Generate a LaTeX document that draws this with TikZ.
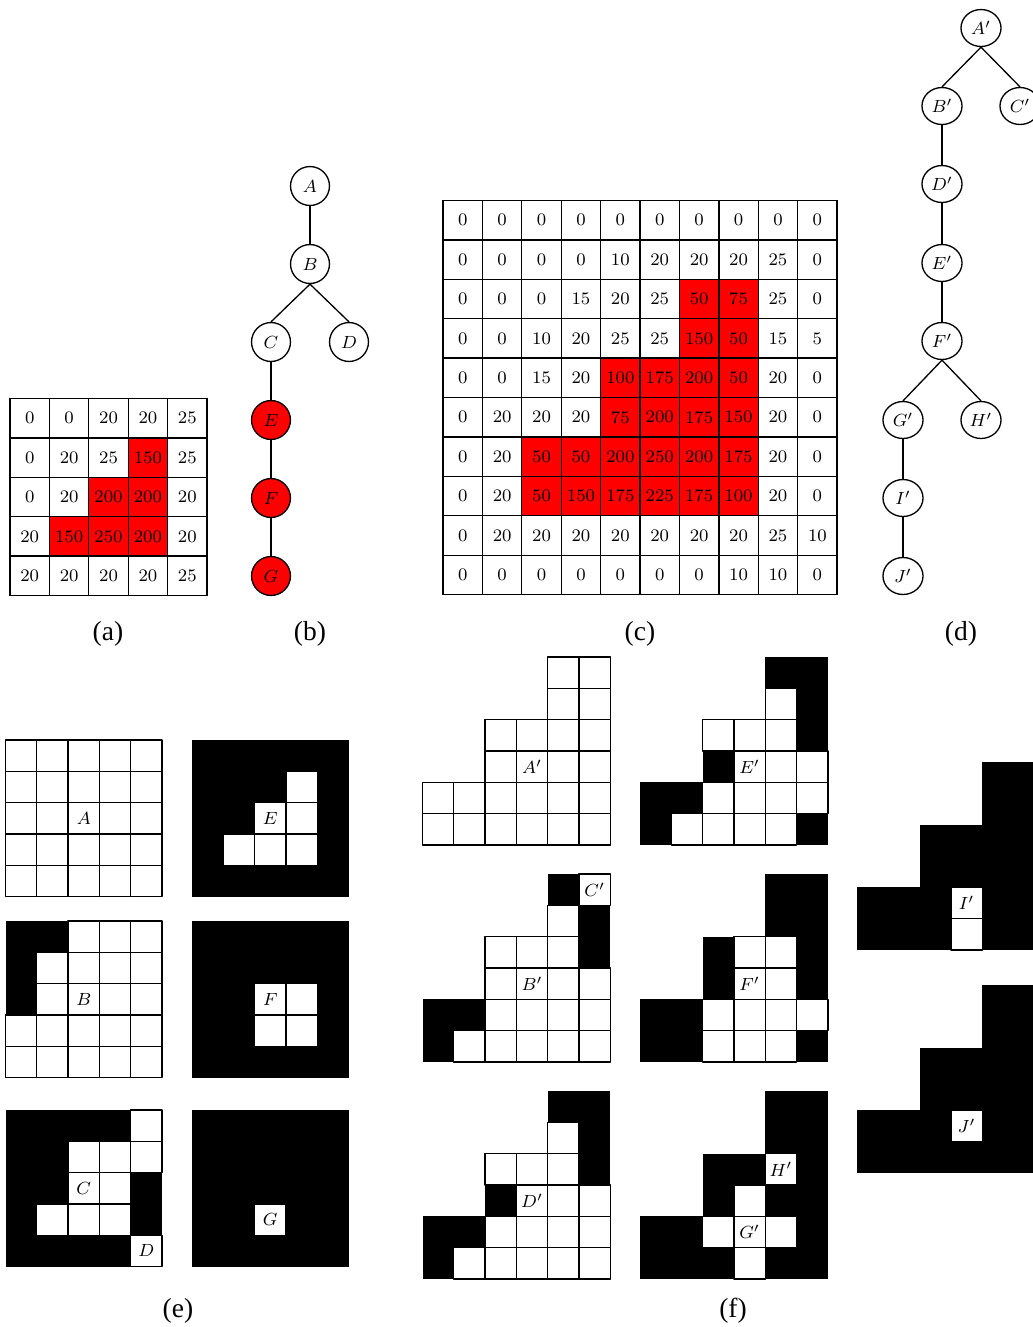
\documentclass[tikz,border=0pt]{standalone}
\usepackage{fontspec}
\newfontfamily\capfont{Liberation Serif}
\usetikzlibrary{shapes.geometric, positioning}
\definecolor{hot}{HTML}{FF0000}
\newcommand{\ncell}{17.91pt}
\newcommand{\bcell}{14.23pt}
\tikzset{el/.style={line width=0.6pt, line cap=round, line join=round},
  numcell/.style={draw, line width=0.6pt, minimum size=\ncell, inner sep=0pt, font=\fontsize{8}{9.5}\selectfont},
  glabel/.style={inner sep=0pt, font=\fontsize{8}{9.5}\selectfont},
  vert/.style={circle, draw, line width=0.6pt, minimum size=17.7pt, inner sep=0pt, font=\fontsize{8}{9.5}\selectfont},
  hotvert/.style={vert, fill=hot},
  vertp/.style={ellipse, draw, line width=0.6pt, minimum width=18.2pt, minimum height=16.8pt, inner sep=0pt, font=\fontsize{8}{9.5}\selectfont},
  captext/.style={font=\capfont\fontsize{12.5}{15}\selectfont}}

% grid of values, red from 50 up
\newcommand{\numgrid}[4]{%
  \begin{scope}[shift={(#1,#2)}, x=\ncell, y=-\ncell]
    \foreach \row [count=\ri from 0] in {#3}
      \foreach \val [count=\ci from 0] in \row {
        \ifnum\val<50 \def\tint{white}\else\def\tint{hot}\fi
        \node[numcell, fill=\tint] (#4-\ri-\ci) at (\ci+0.5,\ri+0.5) {\val};}
  \end{scope}}

% binary grid: 0 none, 1 white, 2 black
\newcommand{\bingrid}[4]{%
  \begin{scope}[shift={(#1,#2)}, x=\bcell, y=-\bcell]
    \foreach \row [count=\ri from 0] in {#3}
      \foreach \val [count=\ci from 0] in \row {
        \ifnum\val=1 \draw[el, fill=white] (\ci,\ri) rectangle ++(1,1);\fi
        \ifnum\val=2 \fill (\ci,\ri) rectangle ++(1,1);\fi}
    \foreach \lr/\lc/\lt/\ln in {#4}
      \node[glabel] (\ln) at (\lc+0.5,\lr+0.5) {$\lt$};
  \end{scope}}

\begin{document}
\begin{tikzpicture}[x=0.4545pt, y=-0.4545pt]
  \useasboundingbox (0,0) rectangle (1033,1327);

  % (a) and (c)
  \numgrid{10}{398.5}{{0,0,20,20,25},{0,20,25,150,25},{0,20,200,200,20},{20,150,250,200,20},{20,20,20,20,25}}{a}
  \numgrid{443}{200.5}{{0,0,0,0,0,0,0,0,0,0},{0,0,0,0,10,20,20,20,25,0},{0,0,0,15,20,25,50,75,25,0},
    {0,0,10,20,25,25,150,50,15,5},{0,0,15,20,100,175,200,50,20,0},{0,20,20,20,75,200,175,150,20,0},
    {0,20,50,50,200,250,200,175,20,0},{0,20,50,150,175,225,175,100,20,0},{0,20,20,20,20,20,20,20,25,10},
    {0,0,0,0,0,0,0,10,10,0}}{c}

  % (b)
  \node[vert] (A) at (310,186) {$A$};
  \node[vert] (B) at (310,264) {$B$};
  \node[vert] (C) at (271,342) {$C$};
  \node[vert] (D) at (349,342) {$D$};
  \node[hotvert] (E) at (271,420) {$E$};
  \node[hotvert] (F) at (271,498) {$F$};
  \node[hotvert] (G) at (271,576) {$G$};
  \foreach \pa/\ch in {A/B, B/C, B/D, C/E, E/F, F/G}
    \draw[el] (\pa.south) -- (\ch.north);

  % (d)
  \node[vertp] (Ap) at (981,28) {$A'$};
  \node[vertp] (Bp) at (942,106) {$B'$};
  \node[vertp] (Cp) at (1020,106) {$C'$};
  \node[vertp] (Dp) at (942,184) {$D'$};
  \node[vertp] (Ep) at (942,263) {$E'$};
  \node[vertp] (Fp) at (942,341) {$F'$};
  \node[vertp] (Gp) at (903,420) {$G'$};
  \node[vertp] (Hp) at (981,420) {$H'$};
  \node[vertp] (Ip) at (903,498) {$I'$};
  \node[vertp] (Jp) at (903,576) {$J'$};
  \foreach \pa/\ch in {Ap/Bp, Ap/Cp, Bp/Dp, Dp/Ep, Ep/Fp, Fp/Gp, Fp/Hp, Gp/Ip, Ip/Jp}
    \draw[el] (\pa.south) -- (\ch.north);

  % (e)
  \bingrid{5.5}{740}{{1,1,1,1,1},{1,1,1,1,1},{1,1,1,1,1},{1,1,1,1,1},{1,1,1,1,1}}{2/2/A/gA}
  \bingrid{192}{740}{{2,2,2,2,2},{2,2,2,1,2},{2,2,1,1,2},{2,1,1,1,2},{2,2,2,2,2}}{2/2/E/gE}
  \bingrid{5.5}{921}{{2,2,1,1,1},{2,1,1,1,1},{2,1,1,1,1},{1,1,1,1,1},{1,1,1,1,1}}{2/2/B/gB}
  \bingrid{192}{921}{{2,2,2,2,2},{2,2,2,2,2},{2,2,1,1,2},{2,2,1,1,2},{2,2,2,2,2}}{2/2/F/gF}
  \bingrid{5.5}{1110}{{2,2,2,2,1},{2,2,1,1,1},{2,2,1,1,2},{2,1,1,1,2},{2,2,2,2,1}}{2/2/C/gC, 4/4/D/gD}
  \bingrid{192}{1110}{{2,2,2,2,2},{2,2,2,2,2},{2,2,2,2,2},{2,2,1,2,2},{2,2,2,2,2}}{3/2/G/gG}

  % (f)
  \bingrid{422.5}{657}{{0,0,0,0,1,1},{0,0,0,0,1,1},{0,0,1,1,1,1},{0,0,1,1,1,1},{1,1,1,1,1,1},{1,1,1,1,1,1}}{3/3/A'/gAp}
  \bingrid{640}{657}{{0,0,0,0,2,2},{0,0,0,0,1,2},{0,0,1,1,1,2},{0,0,2,1,1,1},{2,2,1,1,1,1},{2,1,1,1,1,2}}{3/3/E'/gEp}
  \bingrid{422.5}{874}{{0,0,0,0,2,1},{0,0,0,0,1,2},{0,0,1,1,1,2},{0,0,1,1,1,1},{2,2,1,1,1,1},{2,1,1,1,1,1}}{0/5/C'/gCp, 3/3/B'/gBp}
  \bingrid{640}{874}{{0,0,0,0,2,2},{0,0,0,0,2,2},{0,0,2,1,1,2},{0,0,2,1,1,2},{2,2,1,1,1,1},{2,2,1,1,1,2}}{3/3/F'/gFp}
  \bingrid{422.5}{1091}{{0,0,0,0,2,2},{0,0,0,0,1,2},{0,0,1,1,1,2},{0,0,2,1,1,1},{2,2,1,1,1,1},{2,1,1,1,1,1}}{3/3/D'/gDp}
  \bingrid{640}{1091}{{0,0,0,0,2,2},{0,0,0,0,2,2},{0,0,2,2,1,2},{0,0,2,1,2,2},{2,2,1,1,1,2},{2,2,2,1,2,2}}{2/4/H'/gHp, 4/3/G'/gGp}
  \bingrid{857}{762}{{0,0,0,0,2,2},{0,0,0,0,2,2},{0,0,2,2,2,2},{0,0,2,2,2,2},{2,2,2,1,2,2},{2,2,2,1,2,2}}{4/3/I'/gIp}
  \bingrid{857}{985}{{0,0,0,0,2,2},{0,0,0,0,2,2},{0,0,2,2,2,2},{0,0,2,2,2,2},{2,2,2,1,2,2},{2,2,2,2,2,2}}{4/3/J'/gJp}

  % captions
  \node[captext] (capa) at (108,634) {(a)};
  \node[captext] (capb) at (310,634) {(b)};
  \node[captext] (capc) at (640,634) {(c)};
  \node[captext] (capd) at (961,634) {(d)};
  \node[captext] (cape) at (178,1311) {(e)};
  \node[captext] (capf) at (733,1311) {(f)};
\end{tikzpicture}
\end{document}
